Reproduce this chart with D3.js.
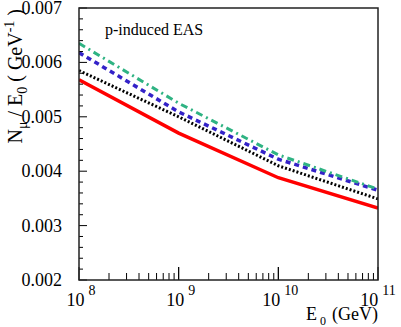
<!DOCTYPE html>
<html><head><meta charset="utf-8">
<script src="https://cdn.jsdelivr.net/npm/d3@7"></script>
<style>body{margin:0;background:#fff}svg{display:block}text{font-family:"Liberation Serif","DejaVu Serif",serif;fill:#000}</style>
</head><body><svg id="c" width="401" height="327"></svg>
<script>
const energies = [1e8, 1e9, 1e10, 1e11];
const redSolid = [0.00568, 0.00470, 0.00388, 0.00332];
const blackDotted = [0.00585, 0.00500, 0.00410, 0.00349];
const blueDashed = [0.00618, 0.00509, 0.00422, 0.00365];
const greenDashDot = [0.00635, 0.00525, 0.00430, 0.00367];
const yTickLabels = ["0.002", "0.003", "0.004", "0.005", "0.006", "0.007"];
const xExponents = ["8", "9", "10", "11"];

const svg = d3.select("#c");
const L = 79, R = 378, T = 8, B = 280;
const x = d3.scaleLog().domain([1e8, 1e11]).range([L, R]);
const y = d3.scaleLinear().domain([0.002, 0.007]).range([B, T]);

const series = [
  {v: redSolid, color: "#ff0000", dash: null, w: 3.5},
  {v: blackDotted, color: "#000000", dash: "2,2", w: 3},
  {v: blueDashed, color: "#3322c8", dash: "5,4", w: 3.5},
  {v: greenDashDot, color: "#2fb383", dash: "7,4,2,4", w: 3}
];
const line = d3.line().x((d, i) => x(energies[i])).y(d => y(d));
svg.append("defs").append("clipPath").attr("id","cp").append("rect")
  .attr("x", L).attr("y", T).attr("width", R - L).attr("height", B - T);
series.forEach(s => {
  svg.append("path").datum(s.v).attr("d", line).attr("fill", "none")
    .attr("stroke", s.color).attr("stroke-width", s.w)
    .attr("stroke-dasharray", s.dash).attr("clip-path","url(#cp)");
});

const g = svg.append("g").attr("stroke", "#000").attr("stroke-width", 1);
d3.range(0, 26).forEach(i => {
  const v = 0.002 + i * 0.0002;
  const major = i % 5 === 0;
  g.append("line").attr("x1", L).attr("x2", L + (major ? 8 : 4))
    .attr("y1", y(v)).attr("y2", y(v));
});
[1e8, 1e9, 1e10].forEach(dec => {
  for (let k = 1; k <= 10; k++) {
    const v = dec * k;
    const major = (k === 1 || k === 10);
    g.append("line").attr("x1", x(v)).attr("x2", x(v))
      .attr("y1", B).attr("y2", B - (major ? 13 : 7));
  }
});
svg.append("rect").attr("x", L).attr("y", T).attr("width", R - L).attr("height", B - T)
  .attr("fill", "none").attr("stroke", "#222").attr("stroke-width", 1.5);

yTickLabels.forEach(t => {
  svg.append("text").attr("x", 62).attr("y", y(+t) + 6).attr("text-anchor", "end")
    .attr("font-size", 18).text(t);
});
energies.forEach((e, i) => {
  const t = svg.append("text").attr("x", x(e) + (i === 3 ? 0 : 2)).attr("y", 306)
    .attr("text-anchor", "middle").attr("font-size", 18);
  t.append("tspan").text("10");
  t.append("tspan").attr("dx", 4).attr("dy", -11).attr("font-size", 14).text(xExponents[i]);
});
const xt = svg.append("text").attr("x", 378).attr("y", 320).attr("text-anchor", "end").attr("font-size", 18);
xt.append("tspan").text("E");
xt.append("tspan").attr("dx", 3).attr("dy", 5).attr("font-size", 12).text("0");
xt.append("tspan").attr("dx", 6).attr("dy", -5).text("(GeV)");

const yt = svg.append("text").attr("transform", "translate(22,9) rotate(-90)")
  .attr("text-anchor", "end").attr("font-size", 20);
yt.append("tspan").text("N");
yt.append("tspan").attr("dy", 5).attr("font-size", 14).text("μ");
yt.append("tspan").attr("dx", 5).attr("dy", -5).text("/ E");
yt.append("tspan").attr("dy", 5).attr("font-size", 14).text("0");
yt.append("tspan").attr("dx", 5).attr("dy", -5).text("( GeV");
yt.append("tspan").attr("dy", -8).attr("font-size", 14).text("-1");
yt.append("tspan").attr("dx", 5).attr("dy", 8).text(")");

svg.append("text").attr("x", 105).attr("y", 35).attr("font-size", 16).text("p-induced EAS");
</script></body></html>
